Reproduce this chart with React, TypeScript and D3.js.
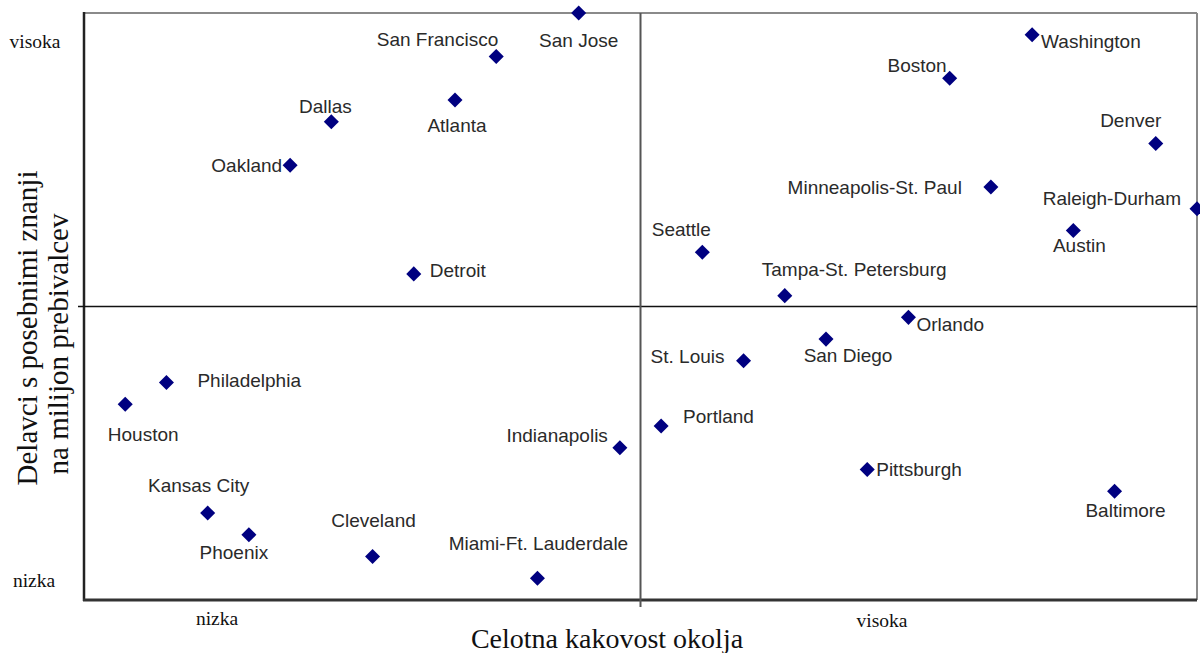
import React from "react";
import * as d3 from "d3";

// ---- data (rank positions) ----
const cities = [
  "San Jose", "Washington", "San Francisco", "Boston", "Atlanta", "Dallas", "Denver",
  "Oakland", "Minneapolis-St. Paul", "Raleigh-Durham", "Austin", "Seattle", "Detroit",
  "Tampa-St. Petersburg", "Orlando", "San Diego", "St. Louis", "Philadelphia", "Houston",
  "Portland", "Indianapolis", "Pittsburgh", "Baltimore", "Kansas City", "Phoenix",
  "Cleveland", "Miami-Ft. Lauderdale",
];
const environmentQuality = [12, 23, 10, 21, 9, 6, 26, 5, 22, 27, 24, 15, 8, 17, 20, 18, 16, 2, 1, 14, 13, 19, 25, 3, 4, 7, 11];
const knowledgeWorkers = [27, 26, 25, 24, 23, 22, 21, 20, 19, 18, 17, 16, 15, 14, 13, 12, 11, 10, 9, 8, 7, 6, 5, 4, 3, 2, 1];

const xTickLabels = ["nizka", "visoka"];
const yTickLabels = ["nizka", "visoka"];
const xTitle = "Celotna kakovost okolja";
const yTitleLines = ["Delavci s posebnimi znanji", "na milijon prebivalcev"];

// ---- label placement (layout only): [dx, dy, anchor] ----
const labelPlacement: Record<string, [number, number, "start" | "middle" | "end"]> = {
  "San Jose": [0, 27, "middle"],
  "Washington": [9, 7, "start"],
  "San Francisco": [2, -17, "end"],
  "Boston": [-3, -13, "end"],
  "Atlanta": [2, 25, "middle"],
  "Dallas": [-6, -15, "middle"],
  "Denver": [-25, -23, "middle"],
  "Oakland": [-8, 0, "end"],
  "Minneapolis-St. Paul": [-29, 0, "end"],
  "Raleigh-Durham": [-16, -10, "end"],
  "Austin": [6, 15, "middle"],
  "Seattle": [-21, -23, "middle"],
  "Detroit": [16, -4, "start"],
  "Tampa-St. Petersburg": [-23, -26, "start"],
  "Orlando": [8, 7, "start"],
  "San Diego": [22, 16, "middle"],
  "St. Louis": [-19, -5, "end"],
  "Philadelphia": [31, -2, "start"],
  "Houston": [18, 30, "middle"],
  "Portland": [22, -10, "start"],
  "Indianapolis": [-12, -12, "end"],
  "Pittsburgh": [9, 0, "start"],
  "Baltimore": [11, 19, "middle"],
  "Kansas City": [-9, -28, "middle"],
  "Phoenix": [-15, 18, "middle"],
  "Cleveland": [1, -36, "middle"],
  "Miami-Ft. Lauderdale": [1, -35, "middle"],
};

const W = 1200;
const H = 653;
const left = 84, right = 1197, top = 13, bottom = 600;

export default function App() {
  const x = d3.scaleLinear().domain([0, 27]).range([left, right]);
  const y = d3.scaleLinear().domain([0, 27]).range([bottom, top]);
  const diamond = d3.symbol().type(d3.symbolDiamond2).size(144)();
  const midX = x(13.5);
  const midY = y(13.5);
  const serif = "'Liberation Serif', 'Times New Roman', serif";
  const sans = "'Liberation Sans', Arial, sans-serif";

  return (
    <svg width={W} height={H} style={{ position: "absolute", left: 0, top: 0, background: "#fff" }}>
      <rect x={0} y={0} width={W} height={H} fill="#fff" />
      {/* frame */}
      <line x1={left} x2={right} y1={top} y2={top} stroke="#8a8a8a" strokeWidth={2} />
      <line x1={right} x2={right} y1={top} y2={bottom} stroke="#8a8a8a" strokeWidth={2} />
      <line x1={left} x2={left} y1={top - 1} y2={bottom + 1} stroke="#222" strokeWidth={2.5} />
      <line x1={left - 1} x2={right} y1={bottom} y2={bottom} stroke="#333" strokeWidth={3} />
      {/* quadrant lines */}
      <line x1={left - 6} x2={right} y1={midY} y2={midY} stroke="#111" strokeWidth={1.5} />
      <line x1={midX} x2={midX} y1={top} y2={bottom + 7} stroke="#555" strokeWidth={2} />

      {/* axis category labels */}
      <text x={217} y={625} textAnchor="middle" fontFamily={serif} fontSize={19.5} fill="#111">{xTickLabels[0]}</text>
      <text x={882} y={627} textAnchor="middle" fontFamily={serif} fontSize={19.5} fill="#111">{xTickLabels[1]}</text>
      <text x={35} y={48} textAnchor="middle" fontFamily={serif} fontSize={19.5} fill="#111">{yTickLabels[1]}</text>
      <text x={34} y={587} textAnchor="middle" fontFamily={serif} fontSize={19.5} fill="#111">{yTickLabels[0]}</text>

      {/* axis titles */}
      <text x={607} y={648} textAnchor="middle" fontFamily={serif} fontSize={28} fill="#111">{xTitle}</text>
      <text transform={`translate(37,328) rotate(-90)`} textAnchor="middle" fontFamily={serif} fontSize={29} fill="#111">{yTitleLines[0]}</text>
      <text transform={`translate(68,344) rotate(-90)`} textAnchor="middle" fontFamily={serif} fontSize={29} fill="#111">{yTitleLines[1]}</text>

      {/* points */}
      {cities.map((c, i) => (
        <path key={c} d={diamond!} transform={`translate(${x(environmentQuality[i])},${y(knowledgeWorkers[i])})`} fill="#000080" />
      ))}
      {/* labels */}
      {cities.map((c, i) => {
        const [dx, dy, anchor] = labelPlacement[c];
        return (
          <text
            key={c + "-l"}
            x={x(environmentQuality[i]) + dx}
            y={y(knowledgeWorkers[i]) + dy}
            dy="0.35em"
            textAnchor={anchor}
            fontFamily={sans}
            fontSize={19}
            fill="#2a2a2a"
          >
            {c}
          </text>
        );
      })}
    </svg>
  );
}
